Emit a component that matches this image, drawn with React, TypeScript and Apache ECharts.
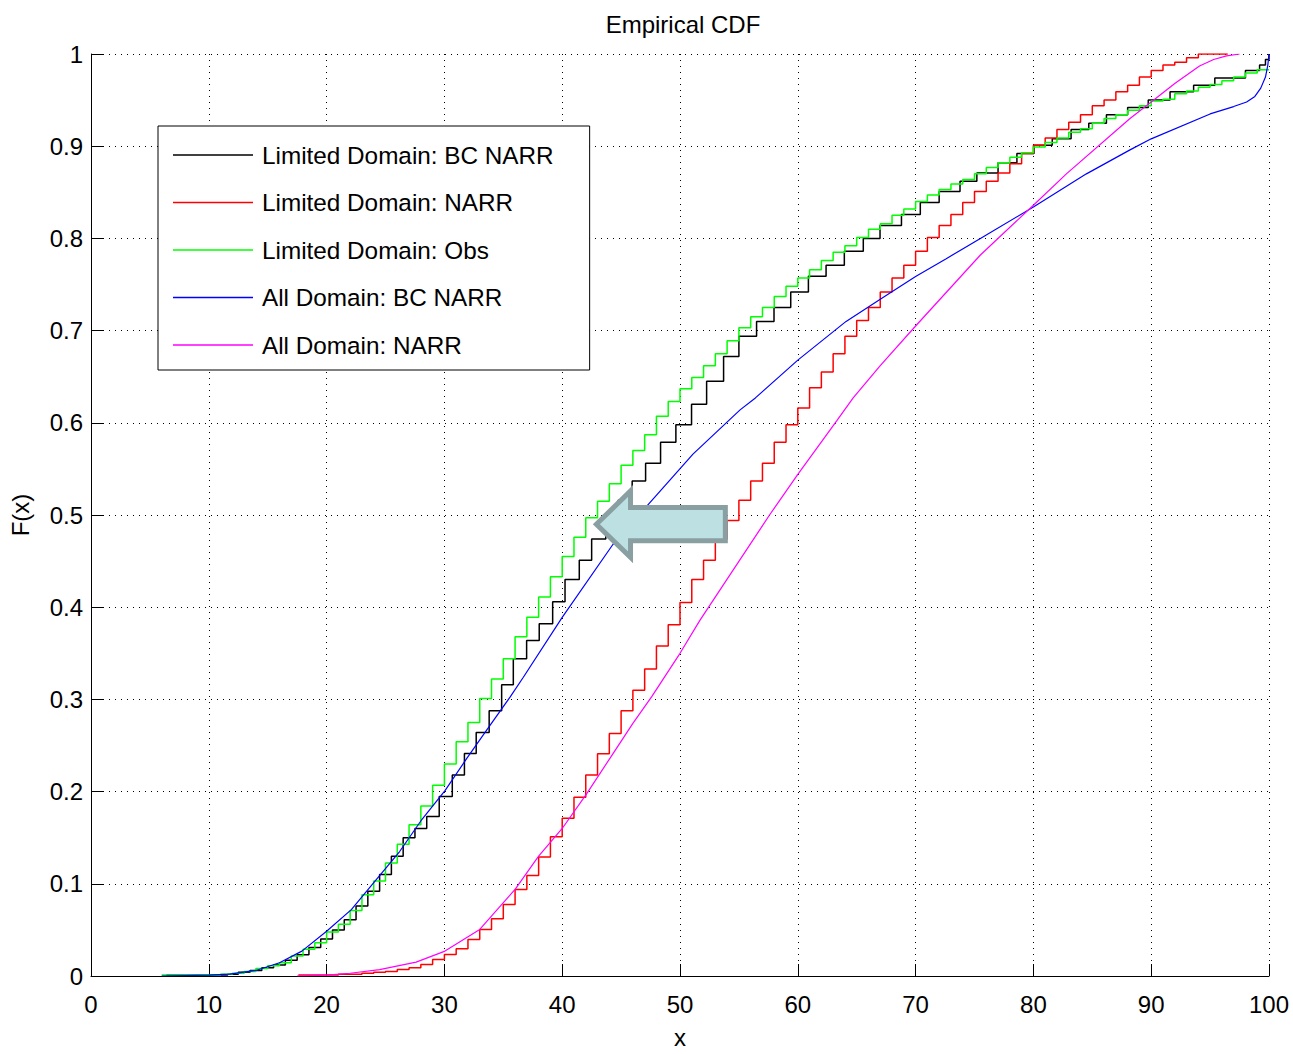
import React, { useEffect, useRef } from "react";
import * as echarts from "echarts";

// Limited Domain: BC NARR (empirical CDF steps) [x, F(x)]
const limitedBcNarr: number[][] = [
  [6.4, 0.001], [11.6, 0.002], [12.5, 0.004], [13.5, 0.006], [14.5, 0.009], [15.5, 0.012],
  [16.5, 0.017], [17.5, 0.023], [18.5, 0.031], [19.5, 0.04], [20.5, 0.05], [21.5, 0.061],
  [22.5, 0.076], [23.5, 0.092], [24.5, 0.11], [25.5, 0.13], [26.5, 0.15], [27.5, 0.16],
  [28.5, 0.173], [29.56, 0.1946], [30.67, 0.218], [31.7, 0.2414], [32.7, 0.264], [33.8, 0.2876],
  [34.86, 0.316], [35.85, 0.344], [36.98, 0.364], [38.05, 0.382], [39.19, 0.406], [40.24, 0.43],
  [41.45, 0.451], [42.5, 0.474], [43.7, 0.494], [44.75, 0.516], [45.94, 0.537], [47.08, 0.556],
  [48.35, 0.579], [49.65, 0.598], [50.98, 0.62], [52.26, 0.645], [53.7, 0.672], [55.0, 0.694],
  [56.5, 0.71], [57.98, 0.725], [59.4, 0.742], [60.9, 0.759], [62.4, 0.771], [63.95, 0.786],
  [65.56, 0.8], [66.98, 0.814], [68.8, 0.826], [70.4, 0.839], [72.0, 0.851], [73.77, 0.862],
  [75.2, 0.871], [77.0, 0.882], [78.6, 0.892], [80.05, 0.901], [81.6, 0.908], [83.2, 0.918],
  [84.7, 0.925], [86.2, 0.934], [88.0, 0.942], [89.75, 0.95], [91.6, 0.959], [93.6, 0.966],
  [95.4, 0.974], [98.0, 0.982], [99.2, 0.988], [99.7, 0.994], [100, 1.0],
];

// Limited Domain: NARR
const limitedNarr: number[][] = [
  [17.6, 0.001], [21, 0.002], [23, 0.003], [24, 0.004], [25, 0.005], [26, 0.007], [27, 0.009],
  [28, 0.0126], [29, 0.018], [30, 0.0234], [31, 0.0295], [32, 0.0396], [33, 0.0505], [34, 0.062],
  [35, 0.0775], [36, 0.0937], [37, 0.109], [38, 0.129], [39, 0.151], [40, 0.171], [41, 0.194],
  [42, 0.218], [43, 0.241], [44, 0.263], [45, 0.2876], [46, 0.31], [47, 0.333], [48, 0.358],
  [49, 0.381], [50, 0.405], [51, 0.43], [52, 0.451], [53, 0.474], [54, 0.494], [55, 0.516],
  [56, 0.537], [57, 0.556], [58, 0.579], [59, 0.598], [60, 0.616], [61, 0.638], [62, 0.655],
  [63, 0.675], [64, 0.694], [65, 0.711], [66, 0.725], [67, 0.742], [68, 0.757], [69, 0.771],
  [70, 0.786], [71, 0.801], [72, 0.814], [73, 0.826], [74, 0.839], [75, 0.851], [76, 0.862],
  [77, 0.871], [78, 0.881], [79, 0.892], [80, 0.901], [81, 0.909], [82, 0.918], [83, 0.926],
  [84, 0.934], [85, 0.944], [86, 0.95], [87, 0.959], [88, 0.966], [89, 0.975], [90, 0.982],
  [91, 0.988], [92, 0.991], [93, 0.996], [94, 1.0], [96.5, 1.0],
];

// Limited Domain: Obs
const limitedObs: number[][] = [
  [6, 0.001], [10, 0.001], [11, 0.002], [12, 0.003], [13, 0.005], [14, 0.008], [15, 0.011],
  [16, 0.0144], [17, 0.0216], [18, 0.029], [19, 0.036], [20, 0.0476], [21, 0.056], [22, 0.071],
  [23, 0.088], [24, 0.103], [25, 0.1225], [26, 0.143], [27, 0.164], [28, 0.1845], [29, 0.207],
  [30, 0.23], [31, 0.254], [32, 0.275], [33, 0.301], [34, 0.322], [35, 0.344], [36, 0.368],
  [37, 0.389], [38, 0.411], [39, 0.433], [40, 0.455], [41, 0.476], [42, 0.497], [43, 0.515],
  [44, 0.534], [45, 0.554], [46, 0.57], [47, 0.587], [48, 0.607], [49, 0.623], [50, 0.637],
  [51, 0.649], [52, 0.662], [53, 0.675], [54, 0.689], [55, 0.703], [56, 0.715], [57, 0.725],
  [58, 0.737], [59, 0.748], [60, 0.757], [61, 0.766], [62, 0.776], [63, 0.785], [64, 0.792],
  [65, 0.801], [66, 0.81], [67, 0.816], [68, 0.825], [69, 0.832], [70, 0.84], [71, 0.847],
  [72, 0.853], [73, 0.859], [74, 0.864], [75, 0.87], [76, 0.877], [77, 0.882], [78, 0.888],
  [79, 0.893], [80, 0.899], [81, 0.904], [82, 0.909], [83, 0.915], [84, 0.919], [85, 0.925],
  [86, 0.93], [87, 0.934], [88, 0.939], [89, 0.944], [90, 0.949], [91, 0.951], [92, 0.957],
  [93, 0.96], [94, 0.964], [95, 0.967], [96, 0.971], [97, 0.975], [98, 0.9795], [99, 0.983],
  [100, 0.983],
];

// All Domain: BC NARR (smooth CDF)
const allBcNarr: number[][] = [
  [6, 0], [10, 0.001], [11.8, 0.002], [14, 0.006], [16, 0.0144], [17.9, 0.027], [20, 0.0486],
  [22.1, 0.072], [24.25, 0.105], [26.2, 0.135], [28.1, 0.17], [30.05, 0.201], [31.9, 0.236],
  [33.6, 0.267], [35.6, 0.303], [36.7, 0.324], [40, 0.389], [44.3, 0.468], [47.2, 0.51],
  [51.1, 0.566], [55.1, 0.614], [56.4, 0.627], [60, 0.668], [64.1, 0.71], [67, 0.734],
  [70, 0.7586], [72.6, 0.778], [75.5, 0.8], [80, 0.834], [84.5, 0.87], [88.2, 0.896],
  [90, 0.908], [95, 0.935], [97, 0.943], [98.1, 0.948], [98.8, 0.954], [99.3, 0.963],
  [99.7, 0.975], [99.9, 0.988], [100, 1.0],
];

// All Domain: NARR (smooth CDF)
const allNarr: number[][] = [
  [17.5, 0], [20, 0.001], [22, 0.003], [24.5, 0.007], [27.6, 0.015], [30.05, 0.027], [33, 0.0505],
  [36, 0.094], [38, 0.13], [40, 0.16], [42.1, 0.198], [44.3, 0.241], [46, 0.274], [47.6, 0.303],
  [50, 0.35], [51.7, 0.386], [57.6, 0.5], [60, 0.544], [63.3, 0.602], [64.7, 0.627], [67, 0.662],
  [70, 0.705], [75.5, 0.782], [80, 0.836], [82.8, 0.87], [88.2, 0.93], [90, 0.948], [92, 0.968],
  [94.1, 0.987], [95.3, 0.994], [96.4, 0.998], [97.5, 1.0],
];

// Annotation arrow outline, in data coordinates
const arrowOutline: number[][] = [
  [42.9, 0.49], [45.8, 0.526], [45.8, 0.508], [53.85, 0.508],
  [53.85, 0.472], [45.8, 0.472], [45.8, 0.454],
];

const xTicks = { min: 0, max: 100, interval: 10 };
const yTicks = { min: 0, max: 1, interval: 0.1 };

const FONT = "Liberation Sans, Arial, Helvetica, sans-serif";

export default function App() {
  const ref = useRef<HTMLDivElement>(null);
  useEffect(() => {
    if (!ref.current) return;
    const chart = echarts.init(ref.current, null, { renderer: "svg" });
    const gridLine = { show: true, lineStyle: { color: "#000", width: 1, type: [1, 5] as any } };
    const mkLine = (name: string, data: number[][], color: string, step: boolean, width: number) => ({
      name,
      type: "line",
      data,
      step: step ? "end" : false,
      smooth: false,
      symbol: "none",
      showSymbol: false,
      lineStyle: { color, width },
      itemStyle: { color },
    });
    chart.setOption({
      animation: false,
      backgroundColor: "#fff",
      title: {
        text: "Empirical CDF",
        left: 678,
        textAlign: "center",
        top: 7,
        textStyle: { fontFamily: FONT, fontSize: 24, fontWeight: "normal", color: "#000" },
      },
      grid: { left: 90, right: 24, top: 54, bottom: 70, containLabel: false },
      legend: {
        orient: "vertical",
        left: 158,
        top: 126,
        backgroundColor: "#fff",
        borderColor: "#000",
        borderWidth: 1,
        padding: [17, 36, 13, 15],
        itemGap: 23.5,
        itemWidth: 80,
        itemHeight: 1.5,
        icon: "rect",
        selectedMode: false,
        textStyle: { fontFamily: FONT, fontSize: 24.3, color: "#000", lineHeight: 24, padding: [0, 0, 0, 4] },
        data: [
          "Limited Domain: BC NARR",
          "Limited Domain: NARR",
          "Limited Domain: Obs",
          "All Domain: BC NARR",
          "All Domain: NARR",
        ],
        z: 10,
      },
      xAxis: {
        type: "value",
        ...xTicks,
        name: "x",
        nameLocation: "middle",
        nameGap: 49,
        nameTextStyle: { fontFamily: FONT, fontSize: 24, color: "#000" },
        axisLine: { show: true, onZero: false, lineStyle: { color: "#000", width: 1 } },
        axisTick: { show: true, inside: true, length: 12, lineStyle: { color: "#000" } },
        axisLabel: { margin: 16, fontFamily: FONT, fontSize: 24, color: "#000" },
        splitLine: gridLine,
      },
      yAxis: {
        type: "value",
        ...yTicks,
        name: "F(x)",
        nameLocation: "middle",
        nameGap: 59,
        nameTextStyle: { fontFamily: FONT, fontSize: 24, color: "#000" },
        axisLine: { show: true, onZero: false, lineStyle: { color: "#000", width: 1 } },
        axisTick: { show: true, inside: true, length: 12, lineStyle: { color: "#000" } },
        axisLabel: {
          margin: 8,
          fontFamily: FONT,
          fontSize: 24,
          color: "#000",
          formatter: (v: number) => String(Math.round(v * 10) / 10),
        },
        splitLine: gridLine,
      },
      series: [
        mkLine("Limited Domain: BC NARR", limitedBcNarr, "#000000", true, 1.5),
        mkLine("Limited Domain: NARR", limitedNarr, "#ff0000", true, 1.5),
        mkLine("Limited Domain: Obs", limitedObs, "#00ff00", true, 1.5),
        mkLine("All Domain: BC NARR", allBcNarr, "#0000ff", false, 1.2),
        mkLine("All Domain: NARR", allNarr, "#ff00ff", false, 1.2),
      ],
    });
    const pts = arrowOutline.map((p) => chart.convertToPixel({ gridIndex: 0 }, p) as number[]);
    chart.setOption({
      graphic: [
        {
          type: "polygon",
          z: 100,
          shape: { points: pts },
          style: { fill: "#bde0e3", stroke: "#8a9fa2", lineWidth: 5, lineJoin: "miter" },
        },
      ],
    });
    return () => chart.dispose();
  }, []);
  return (
    <div
      ref={ref}
      style={{ position: "absolute", left: 0, top: 0, width: 1293, height: 1054, background: "#fff" }}
    />
  );
}
